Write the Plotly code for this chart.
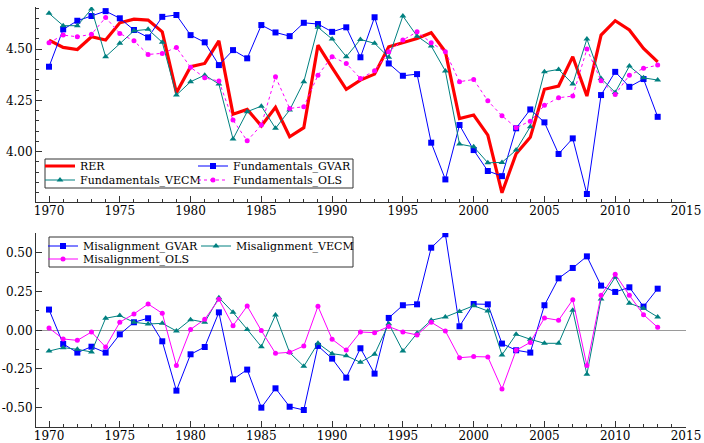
import plotly.graph_objects as go

years = list(range(1970, 2014))

rer = [4.544, 4.508, 4.498, 4.560, 4.544, 4.628, 4.646, 4.641, 4.584, 4.287,
       4.414, 4.430, 4.540, 4.183, 4.206, 4.126, 4.216, 4.073, 4.117, 4.519,
       4.410, 4.304, 4.349, 4.378, 4.511, 4.533, 4.552, 4.580, 4.487, 4.162,
       4.179, 4.081, 3.800, 3.990, 4.070, 4.304, 4.320, 4.463, 4.271, 4.568,
       4.638, 4.593, 4.503, 4.438]

fund_gvar = [4.414, 4.596, 4.638, 4.661, 4.685, 4.650, 4.593, 4.557, 4.657, 4.666,
             4.568, 4.533, 4.422, 4.495, 4.455, 4.617, 4.581, 4.563, 4.628, 4.622,
             4.584, 4.606, 4.460, 4.655, 4.430, 4.370, 4.378, 4.044, 3.865, 4.130,
             4.008, 3.906, 3.881, 4.114, 4.206, 4.143, 3.989, 4.065, 3.794, 4.276,
             4.389, 4.316, 4.354, 4.170]

fund_vecm = [4.674, 4.614, 4.614, 4.695, 4.463, 4.528, 4.589, 4.596, 4.533, 4.276,
             4.341, 4.373, 4.330, 4.062, 4.195, 4.222, 4.114, 4.203, 4.341, 4.606,
             4.549, 4.463, 4.547, 4.528, 4.460, 4.661, 4.563, 4.515, 4.393, 4.037,
             4.024, 3.946, 3.948, 4.008, 4.122, 4.389, 4.401, 4.330, 4.549, 4.357,
             4.289, 4.417, 4.360, 4.349]

fund_ols = [4.531, 4.568, 4.560, 4.572, 4.654, 4.576, 4.540, 4.474, 4.479, 4.508,
            4.411, 4.360, 4.344, 4.154, 4.053, 4.130, 4.365, 4.211, 4.219, 4.373,
            4.463, 4.430, 4.357, 4.394, 4.487, 4.544, 4.584, 4.531, 4.487, 4.341,
            4.352, 4.248, 4.175, 4.117, 4.149, 4.226, 4.263, 4.271, 4.500, 4.346,
            4.279, 4.373, 4.406, 4.422]

mis_gvar = [0.134, -0.088, -0.144, -0.106, -0.144, -0.026, 0.052, 0.078, -0.071, -0.390,
            -0.155, -0.108, 0.116, -0.317, -0.254, -0.500, -0.375, -0.494, -0.515, -0.101,
            -0.183, -0.306, -0.116, -0.280, 0.080, 0.162, 0.168, 0.534, 0.621, 0.026,
            0.170, 0.168, -0.086, -0.129, -0.144, 0.162, 0.336, 0.403, 0.478, 0.289,
            0.248, 0.278, 0.153, 0.269]

mis_vecm = [-0.134, -0.112, -0.123, -0.140, 0.078, 0.095, 0.052, 0.041, 0.045, -0.004,
            0.069, 0.052, 0.211, 0.116, 0.006, -0.106, 0.099, -0.144, -0.233, -0.084,
            -0.151, -0.164, -0.207, -0.155, 0.043, -0.134, -0.019, 0.065, 0.086, 0.121,
            0.159, 0.125, -0.159, -0.026, -0.058, -0.084, -0.084, 0.129, -0.284, 0.203,
            0.343, 0.175, 0.142, 0.086]

mis_ols = [0.015, -0.056, -0.065, -0.011, -0.108, 0.052, 0.106, 0.170, 0.110, -0.228,
           0.006, 0.071, 0.200, 0.030, 0.157, -0.002, -0.149, -0.142, -0.101, 0.155,
           -0.058, -0.127, -0.011, -0.015, 0.024, -0.011, -0.030, 0.052, -0.004, -0.177,
           -0.170, -0.172, -0.379, -0.129, -0.078, 0.080, 0.065, 0.198, -0.228, 0.226,
           0.362, 0.226, 0.101, 0.019]

x_ticks = [1970, 1975, 1980, 1985, 1990, 1995, 2000, 2005, 2010, 2015]
top_yticks = [4.00, 4.25, 4.50]
top_ylabels = ["4.00", "4.25", "4.50"]
bot_yticks = [-0.50, -0.25, 0.00, 0.25, 0.50]
bot_ylabels = ["-0.50", "-0.25", "0.00", "0.25", "0.50"]

FONT = "DejaVu Serif"
AX = "#333333"
RED = "#FF0000"
BLUE = "#0000FF"
TEAL = "#008080"
MAG = "#FF00FF"

W, H = 704, 443
ML, MR, MT, MB = 36, 18, 7, 16
PW = W - ML - MR
PH = H - MT - MB


def px_x(p):
    return (p - ML) / PW


def px_y(p):
    return (H - MB - p) / PH


fig = go.Figure()

# top panel
fig.add_trace(go.Scatter(x=years, y=rer, name="RER", mode="lines",
                         line=dict(color=RED, width=3.2), xaxis="x", yaxis="y",
                         legend="legend"))
fig.add_trace(go.Scatter(x=years, y=fund_gvar, name="Fundamentals_GVAR", mode="lines+markers",
                         line=dict(color=BLUE, width=1),
                         marker=dict(symbol="square", size=6, color=BLUE),
                         xaxis="x", yaxis="y", legend="legend2"))
fig.add_trace(go.Scatter(x=years, y=fund_vecm, name="Fundamentals_VECM", mode="lines+markers",
                         line=dict(color=TEAL, width=1),
                         marker=dict(symbol="triangle-up", size=6, color=TEAL),
                         xaxis="x", yaxis="y", legend="legend3"))
fig.add_trace(go.Scatter(x=years, y=fund_ols, name="Fundamentals_OLS", mode="lines+markers",
                         line=dict(color=MAG, width=1, dash="dot"),
                         marker=dict(symbol="circle", size=5, color=MAG),
                         xaxis="x", yaxis="y", legend="legend4"))

# bottom panel
fig.add_trace(go.Scatter(x=years, y=mis_gvar, name="Misalignment_GVAR", mode="lines+markers",
                         line=dict(color=BLUE, width=1),
                         marker=dict(symbol="square", size=6, color=BLUE),
                         xaxis="x2", yaxis="y2", legend="legend5"))
fig.add_trace(go.Scatter(x=years, y=mis_vecm, name="Misalignment_VECM", mode="lines+markers",
                         line=dict(color=TEAL, width=1),
                         marker=dict(symbol="triangle-up", size=6, color=TEAL),
                         xaxis="x2", yaxis="y2", legend="legend6"))
fig.add_trace(go.Scatter(x=years, y=mis_ols, name="Misalignment_OLS", mode="lines+markers",
                         line=dict(color=MAG, width=1),
                         marker=dict(symbol="circle", size=5, color=MAG),
                         xaxis="x2", yaxis="y2", legend="legend7"))

xcommon = dict(range=[1969.08, 2015.001], tickvals=x_ticks, ticks="inside", ticklen=6,
               tickcolor=AX, tickwidth=1, showline=True, linecolor=AX, linewidth=1,
               showgrid=False, zeroline=False, automargin=False, ticklabelstandoff=-2,
               tickfont=dict(family=FONT, size=12, color="black"),
               minor=dict(tick0=1970, dtick=1, ticks="inside", ticklen=3, tickcolor=AX,
                          showgrid=False))

ycommon = dict(ticks="inside", ticklen=6, tickcolor=AX, tickwidth=1, showline=True,
               linecolor=AX, linewidth=1, showgrid=False, automargin=False,
               tickfont=dict(family=FONT, size=12, color="black"))


def leg(left_px, center_px):
    return dict(x=px_x(left_px), y=px_y(center_px), xanchor="left", yanchor="middle",
                bgcolor="rgba(0,0,0,0)", borderwidth=0, itemwidth=30,
                font=dict(family=FONT, size=11, color="black"))


fig.update_layout(
    width=W, height=H,
    margin=dict(l=ML, r=MR, t=MT, b=MB, autoexpand=False),
    paper_bgcolor="white", plot_bgcolor="white",
    font=dict(family=FONT),
    showlegend=True,
    xaxis=dict(domain=[0, 1], anchor="y", **xcommon),
    yaxis=dict(domain=[px_y(202), 1], anchor="x", range=[3.755, 4.705],
               tickvals=top_yticks, ticktext=top_ylabels, zeroline=False,
               minor=dict(dtick=0.05, tick0=4.0, ticks="inside", ticklen=3, tickcolor=AX),
               **ycommon),
    xaxis2=dict(domain=[0, 1], anchor="y2", **xcommon),
    yaxis2=dict(domain=[0, px_y(233)], anchor="x2", range=[-0.625, 0.629],
                tickvals=bot_yticks, ticktext=bot_ylabels,
                zeroline=True, zerolinecolor="#9a9a9a", zerolinewidth=1,
                minor=dict(dtick=0.125, tick0=0, ticks="inside", ticklen=3, tickcolor=AX),
                **ycommon),
    legend=leg(40, 166),
    legend2=leg(193, 166),
    legend3=leg(40, 180),
    legend4=leg(193, 180),
    legend5=leg(43, 246),
    legend6=leg(196, 246),
    legend7=leg(43, 259),
    shapes=[
        dict(type="rect", xref="paper", yref="paper",
             x0=px_x(45), x1=px_x(353), y0=px_y(188), y1=px_y(159),
             line=dict(color=AX, width=1), fillcolor="rgba(0,0,0,0)"),
        dict(type="rect", xref="paper", yref="paper",
             x0=px_x(49), x1=px_x(353), y0=px_y(267), y1=px_y(237),
             line=dict(color=AX, width=1), fillcolor="rgba(0,0,0,0)"),
    ],
)

# remove the browser's default page margin so the figure sits at the window origin
fig.write_html("out.html", config={"displayModeBar": False},
               post_script="document.body.style.margin='0px';")
